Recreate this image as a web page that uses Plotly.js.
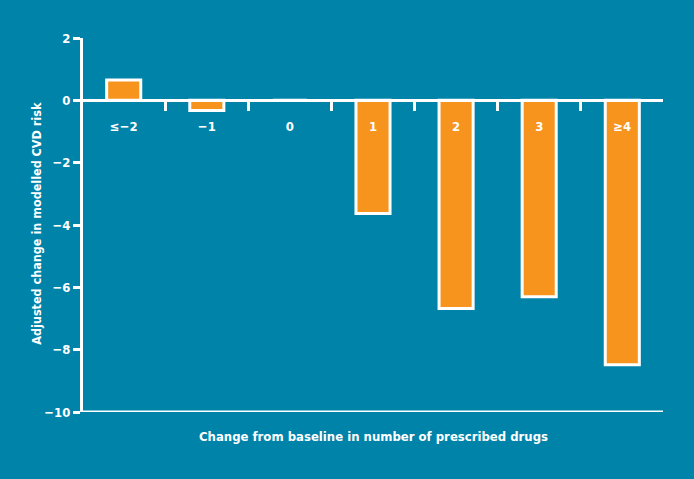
<!DOCTYPE html>
<html>
<head>
<meta charset="utf-8">
<script src="https://cdn.plot.ly/plotly-3.0.1.min.js"></script>
<style>html,body{margin:0;padding:0;background:#0083a9;}#chart{width:694px;height:479px;}</style>
</head>
<body>
<div id="chart"></div>
<script>
const categories = ["≤−2", "−1", "0", "1", "2", "3", "≥4"];
const values = [0.65, -0.33, 0, -3.63, -6.68, -6.3, -8.48];
const yTickValues = [2, 0, -2, -4, -6, -8, -10];
const xTitle = "Change from baseline in number of prescribed drugs";
const yTitle = "Adjusted change in modelled CVD risk";

const bg = "#0083a9";
const orange = "#f7941d";
const fontFam = "'DejaVu Sans Condensed', 'Liberation Sans Narrow', sans-serif";

const yMin = -10, yMax = 2;

const trace = {
  type: "bar",
  x: categories,
  y: values,
  width: 0.41,
  marker: {color: orange, line: {color: "#ffffff", width: 3}},
  hoverinfo: "x+y"
};

const layout = {
  width: 694, height: 479,
  margin: {l: 83, r: 31, t: 38, b: 67},
  paper_bgcolor: bg, plot_bgcolor: bg,
  font: {family: fontFam, color: "#ffffff", size: 13, weight: "bold"},
  showlegend: false,
  xaxis: {
    type: "category",
    range: [-0.49, 6.49],
    anchor: "free",
    position: (0 - yMin) / (yMax - yMin),
    side: "bottom",
    showline: true, linecolor: "#ffffff", linewidth: 3,
    ticks: "outside", tickson: "boundaries", ticklen: 9, tickwidth: 3, tickcolor: "#ffffff",
    tickfont: {family: fontFam, color: "#ffffff", size: 13, weight: "bold"},
    ticklabelstandoff: 13,
    showgrid: false, zeroline: false, fixedrange: true
  },
  yaxis: {
    range: [yMin, yMax],
    tickvals: yTickValues,
    showline: true, linecolor: "#ffffff", linewidth: 3,
    ticks: "outside", ticklen: 7, tickwidth: 3, tickcolor: "#ffffff",
    tickfont: {family: fontFam, color: "#ffffff", size: 13, weight: "bold"},
    showgrid: false, zeroline: false, fixedrange: true
  },
  shapes: [{
    type: "line", xref: "paper", yref: "y", x0: 0, x1: 1, y0: yMin, y1: yMin,
    line: {color: "#ffffff", width: 3}
  }],
  annotations: [
    {text: xTitle, xref: "paper", yref: "paper", x: 0.5, y: -0.066, xanchor: "center", yanchor: "middle",
     showarrow: false, font: {family: fontFam, color: "#ffffff", size: 13, weight: "bold"}},
    {text: yTitle, xref: "paper", yref: "paper", x: -0.08, y: 0.505, xanchor: "center", yanchor: "middle",
     textangle: -90, showarrow: false, font: {family: fontFam, color: "#ffffff", size: 12.5, weight: "bold"}}
  ]
};

Plotly.newPlot("chart", [trace], layout, {displayModeBar: false, staticPlot: true});
</script>
</body>
</html>
